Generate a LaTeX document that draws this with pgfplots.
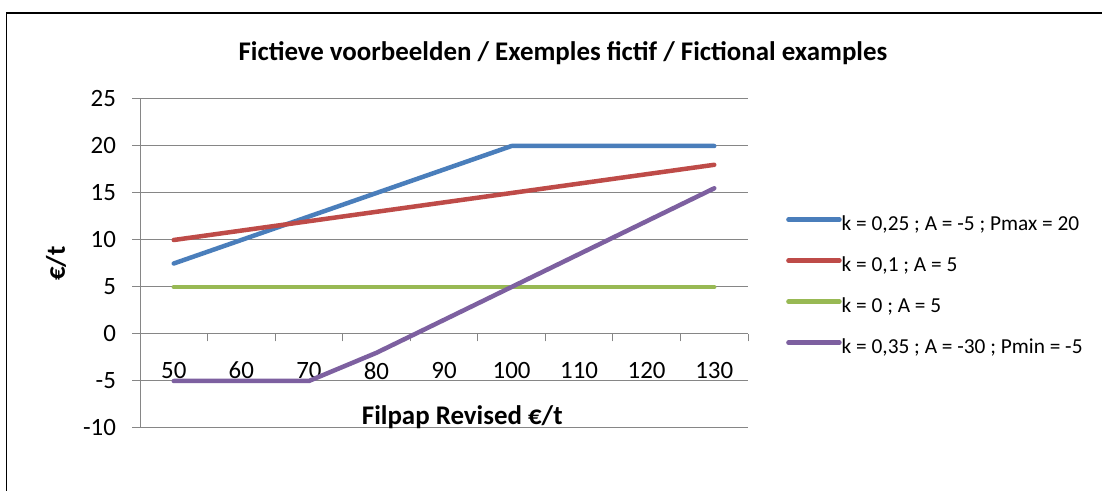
\documentclass[border=0pt]{standalone}
\usepackage{pgfplots}
\pgfplotsset{compat=1.18}
\usepackage{fontspec}
\setmainfont{Carlito}
\definecolor{s1}{HTML}{4A7EBB}
\definecolor{s2}{HTML}{BE4B48}
\definecolor{s3}{HTML}{98B954}
\definecolor{s4}{HTML}{7D60A0}
\definecolor{ax}{HTML}{868686}
\begin{document}
\begin{tikzpicture}
\useasboundingbox (0,0) rectangle (1102bp,491bp);
\fill[white] (0,0) rectangle (1102bp,491bp);
\draw[line width=1.6bp] (6.5bp,0) -- (6.5bp,478bp) -- (1102bp,478bp);
\begin{axis}[
 at={(140bp,63bp)}, anchor=south west, scale only axis, width=608bp, height=329bp,
 xmin=45, xmax=135, ymin=-10, ymax=25,
 axis y line*=left, axis x line*=middle,
 axis line style={ax, line width=1bp},
 xtick={45,55,...,135}, xticklabels={50,60,70,80,90,100,110,120,130},
 x tick label as interval,
 ytick={-10,-5,...,25}, yticklabels={-10,-5,0,5,10,15,20,25},
 ymajorgrids, grid style={ax, line width=1bp},
 tick align=outside, major tick length=7.5bp, tick style={ax, line width=1bp},
 hide obscured x ticks=false, hide obscured y ticks=false,
 ticklabel style={font=\fontsize{25}{30}\selectfont},
 xticklabel style={yshift=-17bp},
 yticklabel style={xshift=-13bp},
 title={Fictieve voorbeelden / Exemples fictif / Fictional examples},
 title style={at={(axis description cs:0.6957,1.122)}, anchor=center, yshift=0pt, font=\fontsize{27}{32}\selectfont\bfseries},
 xlabel={Filpap Revised €/t},
 xlabel style={at={(axis description cs:0.530,0.034)}, anchor=center, font=\fontsize{27}{32}\selectfont\bfseries},
 ylabel={€/t},
 ylabel style={at={(axis description cs:-0.138,0.5)}, anchor=center, font=\fontsize{27}{32}\selectfont\bfseries},
 every axis plot/.append style={line width=4.5bp, line cap=round, line join=round, no markers},
 legend style={at={(axis description cs:1.0625,0.646)}, anchor=north west, draw=none, fill=none, inner sep=0pt,
   font=\fontsize{21.4}{25}\selectfont, row sep=21bp,
   nodes={inner sep=0pt, text height=15bp, text depth=5bp},
   /tikz/every even column/.append style={column sep=7bp}},
 legend cell align=left,
 legend image code/.code={\draw[#1] (0bp,6bp) -- (51bp,6bp);},
]
\addplot[s1] coordinates {(50,7.5) (60,10) (70,12.5) (80,15) (90,17.5) (100,20) (110,20) (120,20) (130,20)};
\addlegendentry{k = 0,25 ; A = -5 ; Pmax = 20}
\addplot[s2] coordinates {(50,10) (60,11) (70,12) (80,13) (90,14) (100,15) (110,16) (120,17) (130,18)};
\addlegendentry{k = 0,1 ; A = 5}
\addplot[s3] coordinates {(50,5) (60,5) (70,5) (80,5) (90,5) (100,5) (110,5) (120,5) (130,5)};
\addlegendentry{k = 0 ; A = 5}
\addplot[s4] coordinates {(50,-5) (60,-5) (70,-5) (80,-2) (90,1.5) (100,5) (110,8.5) (120,12) (130,15.5)};
\addlegendentry{k = 0,35 ; A = -30 ; Pmin = -5}
\end{axis}
\end{tikzpicture}
\end{document}
